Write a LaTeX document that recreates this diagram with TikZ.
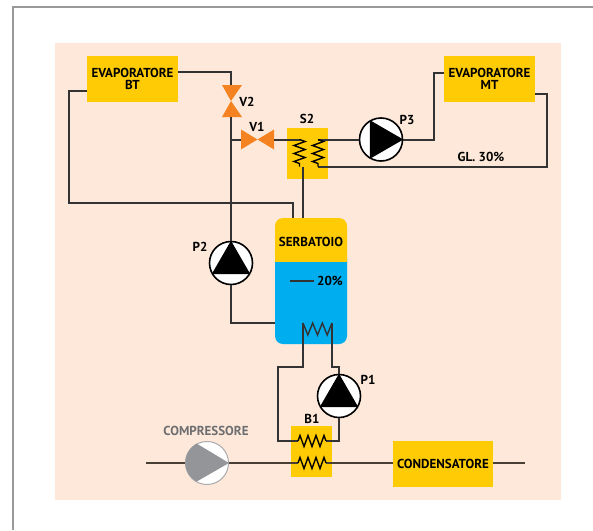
\documentclass[tikz,border=0pt]{standalone}
\usepackage{fontspec}
\setmainfont{PT Sans}
\usetikzlibrary{decorations.pathmorphing}

\definecolor{peach}{HTML}{FEE8D9}
\definecolor{boxyellow}{HTML}{FFCB05}
\definecolor{valveorange}{HTML}{F58220}
\definecolor{tankblue}{HTML}{00AEEF}
\definecolor{linebrown}{HTML}{4A3F35}
\definecolor{compgrey}{HTML}{939598}
\definecolor{textgrey}{HTML}{6D6E71}

\tikzset{
  unit/.style={fill=boxyellow,font=\bfseries\fontsize{13}{12.5}\selectfont,align=center,inner sep=0pt},
  tag/.style={font=\bfseries\fontsize{13}{13}\selectfont,inner sep=0pt},
  pump/.style={circle,draw,line width=1.6pt,fill=white,minimum size=43pt,inner sep=0pt},
  pipe/.style={line width=2pt,black!80},
  mainpipe/.style={line width=2.4pt,linebrown},
  coil/.style={line width=1.4pt,decorate,decoration={zigzag,segment length=8pt,amplitude=5.5pt}},
  valve/.style={fill=valveorange}
}

\begin{document}
\begin{tikzpicture}[x=1pt,y=-1pt]

        \useasboundingbox (0,0) rectangle (593,530);
        \draw[black!40,line width=1.4pt] (13,530) -- (13,7) -- (593,7);
        \fill[peach] (55,43) rectangle (561,500);

        % boxes
        \node[unit,minimum width=91pt,minimum height=46pt] (evbt) at (132.5,79) {EVAPORATORE\\BT};
        \node[unit,minimum width=91pt,minimum height=46pt] (evmt) at (489.5,79) {EVAPORATORE\\MT};
        \node[unit,minimum width=100pt,minimum height=46pt] (cond) at (443,464) {CONDENSATORE};
        \node[unit,minimum width=41pt,minimum height=51pt] (s2) at (307.5,153.5) {};
        \node[unit,minimum width=41pt,minimum height=51pt] (b1) at (311.5,451.5) {};

        % tank
        \fill[tankblue,rounded corners=8pt] (275,250) rectangle (347,344);
        \fill[boxyellow,rounded corners=8pt] (275,218) rectangle (347,270);
        \fill[tankblue] (275,262) rectangle (347,275);
        \node[tag] (serb) at (311,242) {SERBATOIO};
        \node[tag] (lev) at (330,281) {20\%};
        \coordinate (leva) at (290,281);
        \coordinate (levb) at (314,281);
        \draw[pipe] (leva) -- (levb);

        % pumps and compressor
        \node[pump] (p1) at (339,396) {};
        \node[pump] (p2) at (231,263) {};
        \node[pump] (p3) at (381,139.5) {};
        \node[pump,draw=compgrey!80,line width=1pt] (comp) at (207,463) {};

        % connection points
        \coordinate (s2a) at (299.5,139.5);
        \coordinate (s2b) at (299.5,166.5);
        \coordinate (s2c) at (318,139.5);
        \coordinate (s2d) at (318,166.5);
        \coordinate (b1a) at (298,441);
        \coordinate (b1b) at (326,441);
        \coordinate (b1c) at (298,463);
        \coordinate (b1d) at (326,463);
        \coordinate (tka) at (303,323);
        \coordinate (tkb) at (332,323);

        % valves
        \coordinate (v2c) at (231,101);
        \coordinate (v1c) at (257.5,139.5);
        \fill[valve] (v2c) -- (222,85) -- (242,85) -- cycle;
        \fill[valve] (v2c) -- (222,117) -- (242,117) -- cycle;
        \fill[valve] (v1c) -- (241,129.5) -- (241,149.5) -- cycle;
        \fill[valve] (v1c) -- (274,129.5) -- (274,149.5) -- cycle;
        \coordinate (v2t) at (231,85);
        \coordinate (v2b) at (231,117);
        \coordinate (v1l) at (241,139.5);
        \coordinate (v1r) at (274,139.5);

        % pipes
        \begin{scope}[pipe]
          \draw (evbt.east |- 0,72) -| (v2t);
          \draw (v2b) -- (p2.north);
          \draw (v1l) -- (231,139.5);
          \draw (v1r) -- (s2a);
          \draw (303,166.5) -- (303,218);
          \draw (evbt.west |- 0,91) -- (69,91) |- (293,203) -- (293,218);
          \draw (p2.south) |- (275,323);
          \draw (s2c) -- (p3.west);
          \draw (p3.east) -- (434,139.5) |- (evmt.west |- 0,73);
          \draw (evmt.east |- 0,94) -- (547,94) |- (s2d);
          \draw (tka) -- (303,367) -- (278,367) |- (b1a);
          \draw (tkb) -- (332,367) -- (339,367) -- (p1.north);
          \draw (p1.south) |- (b1b);
          \draw[line width=1.4pt] (tka) -- ++(4.83,12) -- ++(4.83,-12) -- ++(4.83,12) -- ++(4.83,-12) -- ++(4.83,12) -- (tkb);
        \end{scope}
        \draw[mainpipe] (146,463) -- (comp.west);
        \draw[mainpipe] (comp.east) -- (b1c);
        \draw[mainpipe] (b1d) -- (cond.west |- 0,463);
        \draw[mainpipe] (cond.east |- 0,463) -- (525,463);

        % coils
        \draw[coil] (s2a) -- (s2b);
        \draw[coil] (s2c) -- (s2d);
        \draw[coil] (b1a) -- (b1b);
        \draw[coil] (b1c) -- (b1d);

        % pump symbols
        \fill (p1.90) -- (p1.210) -- (p1.330) -- cycle;
        \fill (p2.90) -- (p2.210) -- (p2.330) -- cycle;
        \fill (p3.0) -- (p3.120) -- (p3.240) -- cycle;
        \fill[compgrey] (comp.0) -- (comp.118) arc[start angle=118,end angle=242,radius=21.5pt] -- cycle;

        % labels
        \node[tag] (lv2) at (247,102) {V2};
        \node[tag] (lv1) at (257,127) {V1};
        \node[tag] (ls2) at (307,119) {S2};
        \node[tag] (lp3) at (407,120) {P3};
        \node[tag] (lp2) at (200,247) {P2};
        \node[tag] (lp1) at (368,380) {P1};
        \node[tag] (lb1) at (312,419) {B1};
        \node[tag] (lgl) at (481,157) {GL. 30\%};
        \node[tag,textgrey] (lcomp) at (206,431) {COMPRESSORE};

      \end{tikzpicture}
\end{document}
